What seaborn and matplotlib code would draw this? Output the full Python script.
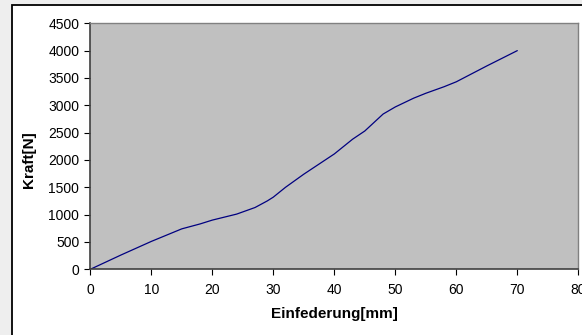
import matplotlib
matplotlib.use("Agg")
import matplotlib.pyplot as plt
import seaborn as sns
import pandas as pd
from matplotlib.patches import Rectangle

einfederung = [0, 5, 10, 15, 18, 20, 24, 27, 29, 30, 32, 35, 40, 43, 45, 48, 50, 53, 55, 58, 60, 65, 70]
kraft = [0, 260, 510, 740, 830, 900, 1010, 1130, 1250, 1320, 1500, 1740, 2110, 2380, 2530, 2840, 2970, 3130, 3220, 3340, 3430, 3720, 4000]
x_ticks = [0, 10, 20, 30, 40, 50, 60, 70, 80]
y_ticks = [0, 500, 1000, 1500, 2000, 2500, 3000, 3500, 4000, 4500]

sns.set_style("white")
plt.rcParams['font.family'] = ['Liberation Sans', 'DejaVu Sans']
plt.rcParams['text.color'] = 'black'
plt.rcParams['axes.labelcolor'] = 'black'
plt.rcParams['xtick.color'] = 'black'
plt.rcParams['ytick.color'] = 'black'

df = pd.DataFrame({'Einfederung': einfederung, 'Kraft': kraft})

fig = plt.figure(figsize=(5.82, 3.35), dpi=100)
fig.patch.set_facecolor('white')

# faint background outside chart frame
fig.patches.append(Rectangle((0, 0), 1, 1, transform=fig.transFigure,
                             facecolor='#eeeeee', edgecolor='none', zorder=-3))
# chart frame
fig.patches.append(Rectangle((12 / 582, -0.1), 1.1, 1 - 5 / 335 + 0.1, transform=fig.transFigure,
                             facecolor='white', edgecolor='black', linewidth=1.3, zorder=-2))

ax = fig.add_axes([90.3 / 582, 1 - 269.3 / 335, 488 / 582, 246 / 335])
ax.set_facecolor('#c0c0c0')
sns.lineplot(data=df, x='Einfederung', y='Kraft', ax=ax, color='#000080', linewidth=0.9)

ax.set_xlim(0, 80)
ax.set_ylim(0, 4500)
ax.set_xticks(x_ticks)
ax.set_yticks(y_ticks)
ax.tick_params(axis='both', direction='out', length=4, width=0.8, color='black',
               labelsize=10, bottom=True, left=True)
ax.tick_params(axis='x', pad=6)
ax.tick_params(axis='y', pad=4)
for side in ['top', 'right']:
    ax.spines[side].set_color('#808080')
    ax.spines[side].set_linewidth(1)
for side in ['left', 'bottom']:
    ax.spines[side].set_color('#404040')
    ax.spines[side].set_linewidth(1.2)

ax.set_xlabel('Einfederung[mm]', fontsize=11, fontweight='bold', labelpad=7)
ax.set_ylabel('Kraft[N]', fontsize=11, fontweight='bold', labelpad=9)
ax.yaxis.label.set_y(0.444)

fig.savefig('out.png', dpi=100)
